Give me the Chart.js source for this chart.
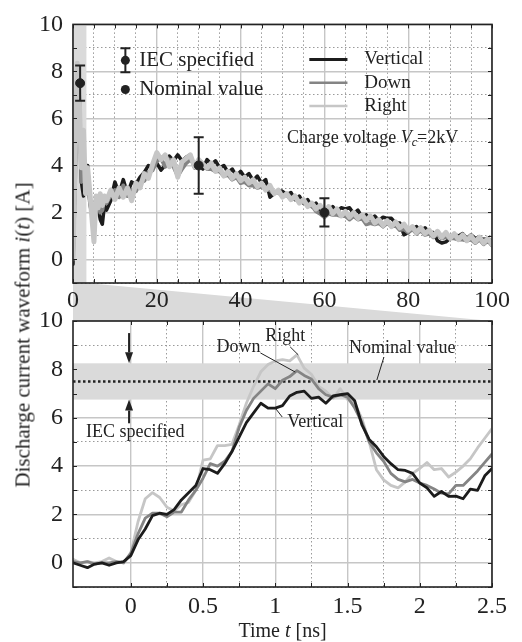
<!DOCTYPE html>
<html><head><meta charset="utf-8">
<script src="https://cdn.jsdelivr.net/npm/chart.js@4/dist/chart.umd.min.js"></script>
<style>
html,body{margin:0;padding:0;background:#fff;}
#wrap{position:relative;width:522px;height:642px;overflow:hidden;background:#fff;}
#cBot{position:absolute;left:0;top:283px;z-index:1;}
#cTop{position:absolute;left:0;top:0;z-index:2;}
#ytitle{position:absolute;left:23px;top:335px;transform:translate(-50%,-50%) rotate(-90deg);white-space:nowrap;font-family:'Liberation Serif','Times New Roman',serif;font-size:21px;color:#222;z-index:3;}
</style></head>
<body><div id="wrap">
<canvas id="cBot" width="522" height="359"></canvas>
<canvas id="cTop" width="522" height="315"></canvas>
<div id="ytitle">Discharge current waveform <i>i</i>(<i>t</i>) [A]</div>
</div>
<script>
// ---------------- DATA ----------------
const seriesNames = ['Vertical', 'Down', 'Right'];

// Upper panel: 0-100 ns
const topTime = [0,0.5,1,1.5,2,2.5,3,3.5,4,4.5,5,5.5,6,6.5,7,7.5,8,
  9,10,11,12,13,14,15,16,17,18,19,20,21,22,23,24,25,26,27,28,29,30,31,32,33,34,35,36,37,38,
  39,40,41,42,43,44,45,46,47,48,49,50,51,52,53,54,55,56,57,58,59,60,61,62,63,64,65,66,67,68,
  69,70,71,72,73,74,75,76,77,78,79,80,81,82,83,84,85,86,87,88,89,90,91,92,93,94,95,96,97,98,99,100];
const topVertical = [-0.2,3.9,6.4,7.0,3.3,2.7,3.3,4.0,2.4,1.9,1.6,2.4,2.2,1.7,1.5,2.3,2.1,
  2.5,3.3,2.8,3.4,2.8,3.3,3.2,3.5,3.7,4.0,
  3.9,4.1,3.8,4.0,4.4,4.2,4.45,4.2,4.35,4.45,
  3.9,4.05,3.85,4.25,4.05,4.2,3.9,4.0,3.7,3.85,
  3.55,3.75,3.5,3.65,3.35,3.55,3.25,3.4,2.65,2.8,
  2.95,2.9,2.75,2.85,2.55,2.7,2.4,2.55,2.25,2.4,
  2.1,2.15,2.05,2.25,2.05,2.2,2.15,2.2,1.95,2.1,
  1.8,1.9,1.7,1.85,1.65,1.8,1.75,1.75,1.55,1.55,
  1.05,1.15,1.3,1.4,1.2,1.35,1.15,1.15,0.8,0.7,
  0.75,0.9,1.05,1.0,1.1,0.9,1.05,0.9,0.95,0.85,
  0.9,0.75];
const topDown = [0.0,3.5,7.2,6.85,3.3,4.5,3.0,3.8,2.6,2.0,1.1,2.5,2.4,2.0,2.1,2.6,2.4,
  2.75,2.95,2.65,3.15,2.7,2.95,2.9,3.25,3.35,3.7,
  3.8,4.2,4.3,3.95,4.25,3.95,3.55,3.85,4.1,4.25,
  4.05,3.95,4.05,3.85,3.85,3.75,3.75,3.55,3.6,3.4,
  3.5,3.25,3.3,3.15,3.15,3.05,3.1,3.0,2.95,2.85,
  2.85,2.7,2.75,2.55,2.6,2.45,2.45,2.3,2.3,2.05,
  1.95,1.8,1.95,1.9,1.9,1.85,1.85,1.7,1.85,1.7,
  1.75,1.5,1.55,1.5,1.55,1.4,1.55,1.4,1.45,1.25,
  1.3,1.15,1.3,1.1,1.25,1.05,1.1,0.95,1.1,0.9,
  0.95,0.9,0.9,0.85,0.85,0.8,0.85,0.7,0.85,0.65,
  0.8,0.6];
const topRight = [0.1,4.25,8.35,6.75,3.9,5.5,2.8,3.9,2.9,1.8,0.75,2.7,2.2,2.8,2.3,2.7,2.5,
  2.95,2.55,3.05,2.65,3.05,2.5,3.25,3.05,3.65,3.45,
  4.05,4.55,4.25,4.45,3.95,4.25,3.5,4.15,4.3,4.45,
  3.95,4.25,4.05,3.9,4.1,3.75,3.9,3.55,3.75,3.45,
  3.65,3.35,3.5,3.25,3.4,3.1,3.25,2.95,3.15,2.8,
  2.95,2.65,2.8,2.55,2.7,2.4,2.55,2.25,2.4,2.15,
  2.3,2.0,2.25,1.95,2.15,1.85,2.05,1.8,2.0,1.75,
  1.9,1.65,1.85,1.55,1.7,1.45,1.65,1.4,1.6,1.35,
  1.5,1.25,1.4,1.15,1.35,1.1,1.25,1.0,1.2,0.95,
  1.15,0.9,1.1,0.85,1.05,0.8,1.0,0.75,0.95,0.7,
  0.9,0.65];

// IEC specified points (nominal value with tolerance)
const iecTime = [1.7, 30, 60];
const iecNominal = [7.5, 4.0, 2.0];
const iecLow = [6.75, 2.8, 1.4];
const iecHigh = [8.25, 5.2, 2.6];
const zoomRange = [0, 3.2];        // highlighted part of the upper panel (ns)

// Lower panel: zoom -0.4 .. 2.5 ns
const botTime = [-0.4,-0.35,-0.3,-0.25,-0.2,-0.15,-0.1,-0.05,0,0.05,0.1,0.15,0.2,0.25,0.3,0.35,0.4,0.45,
  0.5,0.55,0.6,0.65,0.7,0.75,0.8,0.85,0.9,0.95,1,1.05,1.1,1.15,1.2,1.25,1.3,1.35,1.4,1.45,
  1.5,1.55,1.6,1.65,1.7,1.75,1.8,1.85,1.9,1.95,2,2.05,2.1,2.15,2.2,2.25,2.3,2.35,2.4,2.45,2.5];
const botVertical = [0.0,-0.1,-0.2,-0.05,0.0,-0.1,0.0,0.05,0.3,0.95,1.4,1.95,2.05,2.0,2.2,2.6,2.9,3.2,
  3.9,3.85,3.7,4.1,4.6,5.2,5.8,6.2,6.6,6.4,6.4,6.5,6.9,7.05,7.1,6.8,6.85,6.6,6.9,6.95,
  7.0,6.7,5.7,5.1,4.8,4.4,4.1,3.85,3.82,3.7,3.3,3.1,2.75,2.95,2.75,2.76,2.65,3.05,3.0,3.6,3.9];
const botDown = [0.05,0.0,0.05,-0.05,0.0,0.0,0.05,0.0,0.4,1.2,1.85,2.05,2.05,1.9,2.1,2.1,2.6,3.0,
  3.5,4.1,4.0,4.2,4.6,5.6,6.3,6.8,7.1,7.4,7.2,7.55,7.7,7.95,7.75,7.6,7.2,6.95,6.85,6.95,
  6.85,6.4,5.8,5.0,4.55,4.2,3.7,3.45,3.35,3.45,3.3,3.2,3.05,2.88,2.85,3.2,3.2,3.5,3.8,4.15,4.5];
const botRight = [0.15,0.0,0.05,0.0,0.05,0.2,0.05,0.0,0.4,1.7,2.65,2.9,2.7,2.3,2.15,2.4,2.5,3.0,
  4.25,4.3,4.85,4.85,4.9,5.7,6.6,7.3,7.9,8.2,8.35,8.4,8.35,8.6,8.05,7.8,7.3,7.1,6.8,7.2,
  6.75,6.6,5.95,5.0,3.85,3.43,3.2,3.1,3.35,3.7,3.9,4.15,3.85,3.9,3.55,3.75,4.0,4.3,4.75,5.15,5.55];
const peakNominal = 7.5;
const peakBand = [6.75, 8.25];

// tick labels
const topXLabels = [0, 20, 40, 60, 80, 100];
const botXLabels = [0, 0.5, 1, 1.5, 2, 2.5];
const yLabels = [0, 2, 4, 6, 8, 10];

// ---------------- STYLE ----------------
const FONT = "'Liberation Serif','Times New Roman',serif";
const INK = '#222222';
const COLORS = {Vertical: '#1c1c1c', Down: '#848484', Right: '#c6c6c6'};
const GRID_MAJOR = '#c6c6c6', GRID_MINOR = '#9a9a9a', SHADE = '#dadada';

const near = (a, b) => Math.abs(a - b) < 1e-6;
const inList = (list, v) => list.some(l => near(l, v));
const pts = (xs, ys) => xs.map((x, i) => ({x, y: ys[i]}));

function gridFor(isMajor) {
  return {
    drawTicks: false,
    color: c => (c.tick && isMajor(c.tick.value)) ? GRID_MAJOR : GRID_MINOR,
    lineWidth: c => (c.tick && isMajor(c.tick.value)) ? 1.4 : 1
  };
}
function borderFor(isMajor) {
  return {display: false, dash: c => (c.tick && isMajor(c.tick.value)) ? [] : [1.5, 2.5]};
}
const isMajY = v => near(v / 2, Math.round(v / 2));

function frameAndTicks(chart) {
  const {ctx, chartArea: ca, scales: {x, y}} = chart;
  ctx.save();
  ctx.strokeStyle = INK;
  ctx.lineWidth = 1;
  ctx.beginPath();
  y.ticks.forEach(t => {
    const py = Math.round(y.getPixelForValue(t.value)) + 0.5;
    ctx.moveTo(ca.left, py); ctx.lineTo(ca.left + 4, py);
    ctx.moveTo(ca.right, py); ctx.lineTo(ca.right - 4, py);
  });
  x.ticks.forEach(t => {
    const px = Math.round(x.getPixelForValue(t.value)) + 0.5;
    ctx.moveTo(px, ca.top); ctx.lineTo(px, ca.top + 4);
    ctx.moveTo(px, ca.bottom); ctx.lineTo(px, ca.bottom - 4);
  });
  ctx.stroke();
  ctx.lineWidth = 1.6;
  ctx.strokeRect(ca.left, ca.top, ca.right - ca.left, ca.bottom - ca.top);
  ctx.restore();
}

function drawRuns(ctx, x, y, runs, align) {
  let total = 0;
  runs.forEach(r => { ctx.font = r.font; total += ctx.measureText(r.t).width; });
  let cx = align === 'center' ? x - total / 2 : (align === 'right' ? x - total : x);
  ctx.textAlign = 'left';
  ctx.textBaseline = 'middle';
  runs.forEach(r => { ctx.font = r.font; ctx.fillText(r.t, cx, y + (r.dy || 0)); cx += ctx.measureText(r.t).width; });
}

function lineDataset(name, xs, ys, width, order) {
  return {label: name, data: pts(xs, ys), borderColor: COLORS[name], borderWidth: width,
          borderJoinStyle: 'round', borderCapStyle: 'round',
          pointRadius: 0, tension: 0, fill: false, order};
}

// ---------------- UPPER PANEL ----------------
const iecBars = [];
iecTime.forEach((t, i) => { iecBars.push({x: t, y: iecLow[i]}, {x: t, y: iecHigh[i]}, {x: t, y: null}); });

const topPlugin = {
  id: 'topDecor',
  beforeDatasetsDraw(chart) {
    const {ctx, chartArea: ca, scales: {x}} = chart;
    const x0 = x.getPixelForValue(zoomRange[0]), x1 = x.getPixelForValue(zoomRange[1]);
    ctx.save(); ctx.fillStyle = SHADE; ctx.fillRect(x0, ca.top, x1 - x0, ca.bottom - ca.top); ctx.restore();
  },
  afterDatasetsDraw(chart) {
    const {ctx, scales: {x, y}} = chart;
    const X = v => x.getPixelForValue(v), Y = v => y.getPixelForValue(v);
    ctx.save();
    ctx.fillStyle = INK; ctx.strokeStyle = INK;
    const sx = X(12.5), sy = Y(8.47);
    ctx.lineWidth = 2;
    ctx.beginPath();
    ctx.moveTo(sx, sy - 12); ctx.lineTo(sx, sy + 12);
    ctx.moveTo(sx - 5, sy - 12); ctx.lineTo(sx + 5, sy - 12);
    ctx.moveTo(sx - 5, sy + 12); ctx.lineTo(sx + 5, sy + 12);
    ctx.stroke();
    ctx.beginPath(); ctx.arc(sx, sy, 4.5, 0, Math.PI * 2); ctx.fill();
    const ny = Y(7.23);
    ctx.beginPath(); ctx.arc(sx, ny, 4.5, 0, Math.PI * 2); ctx.fill();
    drawRuns(ctx, X(15.8), sy, [{t: 'IEC specified', font: '21px ' + FONT}]);
    drawRuns(ctx, X(15.8), ny, [{t: 'Nominal value', font: '21px ' + FONT}]);
    const ly = [8.51, 7.52, 6.53];
    const lw = [3, 2.5, 2.5];
    seriesNames.forEach((n, i) => {
      ctx.strokeStyle = COLORS[n]; ctx.lineWidth = lw[i];
      ctx.beginPath(); ctx.moveTo(X(56.4), Y(ly[i])); ctx.lineTo(X(65.5), Y(ly[i])); ctx.stroke();
      ctx.fillStyle = INK;
      drawRuns(ctx, X(69.5), Y(ly[i]), [{t: n, font: '19px ' + FONT}]);
    });
    drawRuns(ctx, X(51.1), Y(5.17), [
      {t: 'Charge voltage ', font: '18px ' + FONT},
      {t: 'V', font: 'italic 18px ' + FONT},
      {t: 'c', font: 'italic 12px ' + FONT, dy: 5},
      {t: '=2kV', font: '18px ' + FONT}]);
    ctx.restore();
  },
  afterDraw: frameAndTicks
};

const isMajTopX = v => near(v / 20, Math.round(v / 20));
const topChart = new Chart(document.getElementById('cTop'), {
  type: 'line',
  data: {datasets: [
    {label: 'IEC specified', data: iecBars, borderColor: INK, borderWidth: 2, pointStyle: 'line',
     pointRadius: 5, pointBorderWidth: 2, pointBorderColor: INK, spanGaps: false, order: 0},
    {label: 'Nominal value', data: pts(iecTime, iecNominal), showLine: false, pointRadius: 4.5,
     pointBackgroundColor: INK, pointBorderColor: INK, order: 0},
    lineDataset('Right', topTime, topRight, 5, 1),
    lineDataset('Down', topTime, topDown, 4, 2),
    lineDataset('Vertical', topTime, topVertical, 3.5, 3)
  ]},
  options: {
    responsive: false, animation: false,
    layout: {padding: {left: 0, right: 30, top: 16, bottom: 0}},
    plugins: {legend: {display: false}, tooltip: {enabled: false}},
    scales: {
      x: {type: 'linear', min: 0, max: 100,
          ticks: {stepSize: 5, autoSkip: false, maxRotation: 0, padding: 3, color: INK,
                  font: {family: FONT, size: 24},
                  callback: v => inList(topXLabels, v) ? String(v) : ''},
          grid: gridFor(isMajTopX), border: borderFor(isMajTopX),
          afterFit: s => { s.height = 32; }},
      y: {type: 'linear', min: -1, max: 10,
          ticks: {stepSize: 1, autoSkip: false, padding: 10, color: INK, font: {family: FONT, size: 24},
                  callback: v => inList(yLabels, v) ? String(v) : ''},
          grid: gridFor(isMajY), border: borderFor(isMajY),
          afterFit: s => { s.width = 73; }}
    }
  },
  plugins: [topPlugin]
});

// ---------------- LOWER PANEL ----------------
function arrow(ctx, x, y0, y1) {
  const dir = Math.sign(y1 - y0), hl = 11, hw = 4;
  ctx.beginPath(); ctx.moveTo(x, y0); ctx.lineTo(x, y1 - dir * hl); ctx.stroke();
  ctx.beginPath(); ctx.moveTo(x, y1); ctx.lineTo(x - hw, y1 - dir * hl); ctx.lineTo(x + hw, y1 - dir * hl);
  ctx.closePath(); ctx.fill();
}

const botPlugin = {
  id: 'botDecor',
  beforeDraw(chart) {
    const {ctx, chartArea: ca} = chart;
    const frac = (zoomRange[1] - topTime[0]) / (topTime[topTime.length - 1] - topTime[0]);
    ctx.save(); ctx.fillStyle = SHADE;
    ctx.beginPath();
    ctx.moveTo(ca.left, 0);
    ctx.lineTo(ca.left + (ca.right - ca.left) * frac, 0);
    ctx.lineTo(ca.right, ca.top);
    ctx.lineTo(ca.left, ca.top);
    ctx.closePath(); ctx.fill();
    ctx.restore();
  },
  beforeDatasetsDraw(chart) {
    const {ctx, chartArea: ca, scales: {y}} = chart;
    const y0 = y.getPixelForValue(peakBand[1]), y1 = y.getPixelForValue(peakBand[0]);
    ctx.save(); ctx.fillStyle = SHADE; ctx.fillRect(ca.left, y0, ca.right - ca.left, y1 - y0); ctx.restore();
  },
  afterDatasetsDraw(chart) {
    const {ctx, scales: {x, y}} = chart;
    const X = v => x.getPixelForValue(v), Y = v => y.getPixelForValue(v);
    ctx.save();
    ctx.fillStyle = INK; ctx.strokeStyle = INK;
    ctx.lineWidth = 2;
    arrow(ctx, X(-0.012), Y(9.5), Y(peakBand[1]));
    arrow(ctx, X(-0.012), Y(5.77), Y(peakBand[0]));
    ctx.lineWidth = 1;
    [[0.897, 8.68, 1.138, 7.89], [1.103, 8.93, 1.159, 8.6], [1.752, 8.51, 1.703, 7.56], [1.048, 6.03, 1.0, 6.4]]
      .forEach(l => { ctx.beginPath(); ctx.moveTo(X(l[0]), Y(l[1])); ctx.lineTo(X(l[2]), Y(l[3])); ctx.stroke(); });
    const f = '18px ' + FONT;
    drawRuns(ctx, X(0.897), Y(8.93), [{t: 'Down', font: f}], 'right');
    drawRuns(ctx, X(0.931), Y(9.38), [{t: 'Right', font: f}]);
    drawRuns(ctx, X(1.51), Y(8.88), [{t: 'Nominal value', font: f}]);
    drawRuns(ctx, X(1.083), Y(5.83), [{t: 'Vertical', font: f}]);
    drawRuns(ctx, X(-0.31), Y(5.41), [{t: 'IEC specified', font: f}]);
    ctx.restore();
  },
  afterDraw(chart) {
    frameAndTicks(chart);
    const {ctx, chartArea: ca} = chart;
    ctx.save(); ctx.fillStyle = INK;
    drawRuns(ctx, (ca.left + ca.right) / 2, 349, [
      {t: 'Time ', font: '20px ' + FONT}, {t: 't', font: 'italic 20px ' + FONT}, {t: ' [ns]', font: '20px ' + FONT}], 'center');
    ctx.restore();
  }
};

const isMajBotX = v => near(v * 2, Math.round(v * 2));
const botChart = new Chart(document.getElementById('cBot'), {
  type: 'line',
  data: {datasets: [
    {label: 'Nominal', data: [{x: botTime[0], y: peakNominal}, {x: botTime[botTime.length - 1], y: peakNominal}],
     borderColor: INK, borderWidth: 2.5, borderDash: [2.5, 2.5], pointRadius: 0, order: 10},
    lineDataset('Vertical', botTime, botVertical, 2.8, 1),
    lineDataset('Down', botTime, botDown, 2.8, 2),
    lineDataset('Right', botTime, botRight, 2.8, 3)
  ]},
  options: {
    responsive: false, animation: false,
    layout: {padding: {left: 0, right: 30, top: 38, bottom: 0}},
    plugins: {legend: {display: false}, tooltip: {enabled: false}},
    scales: {
      x: {type: 'linear', min: botTime[0], max: botTime[botTime.length - 1],
          afterBuildTicks: s => { s.ticks = s.ticks.filter(t => near(t.value * 4, Math.round(t.value * 4))); },
          ticks: {stepSize: 0.25, autoSkip: false, maxRotation: 0, padding: 5, color: INK,
                  font: {family: FONT, size: 24},
                  callback: v => inList(botXLabels, v) ? String(Math.round(v * 2) / 2) : ''},
          grid: gridFor(isMajBotX), border: borderFor(isMajBotX),
          afterFit: s => { s.height = 55; }},
      y: {type: 'linear', min: -1, max: 10,
          ticks: {stepSize: 1, autoSkip: false, padding: 10, color: INK, font: {family: FONT, size: 24},
                  callback: v => inList(yLabels, v) ? String(v) : ''},
          grid: gridFor(isMajY), border: borderFor(isMajY),
          afterFit: s => { s.width = 73; }}
    }
  },
  plugins: [botPlugin]
});

if (document.fonts) {
  Promise.all([
    document.fonts.load("24px 'Liberation Serif'"),
    document.fonts.load("italic 18px 'Liberation Serif'")
  ]).then(() => { topChart.update('none'); botChart.update('none'); }).catch(() => {});
}
</script>
</body></html>
